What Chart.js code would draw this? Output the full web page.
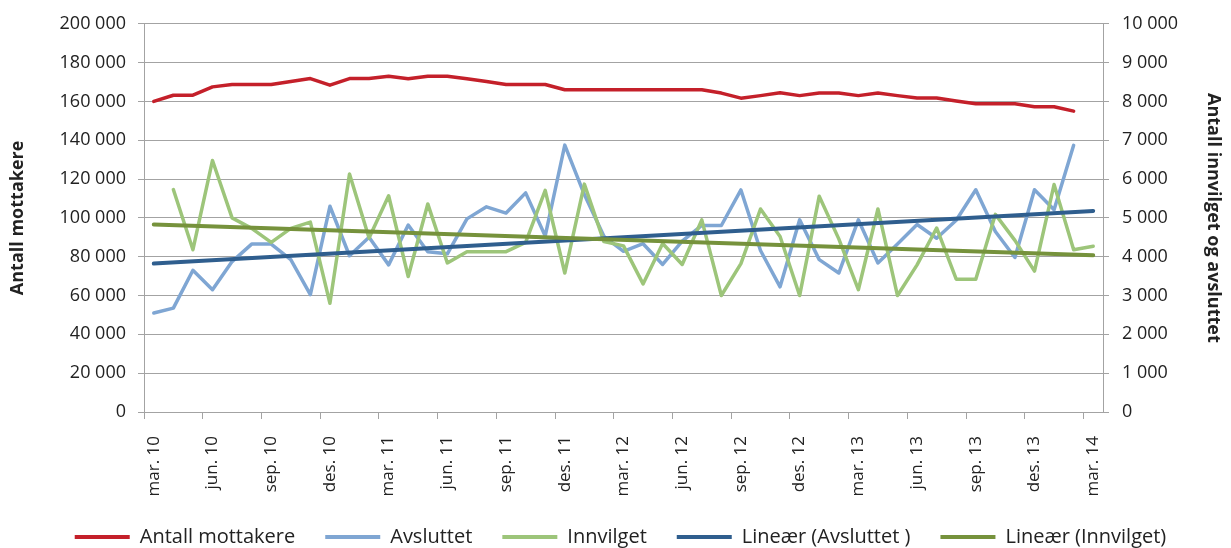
<!DOCTYPE html>
<html><head><meta charset="utf-8">
<script src="https://cdn.jsdelivr.net/npm/chart.js@4/dist/chart.umd.min.js"></script>
<style>html,body{margin:0;padding:0;background:#fff}#wrap{width:1231px;height:548px}</style>
</head><body><div id="wrap"><canvas id="c" width="1231" height="548"></canvas></div>
<script>
const categories = [
  'mar. 10','apr. 10','mai 10','jun. 10','jul. 10','aug. 10','sep. 10','okt. 10','nov. 10','des. 10',
  'jan. 11','feb. 11','mar. 11','apr. 11','mai 11','jun. 11','jul. 11','aug. 11','sep. 11','okt. 11','nov. 11','des. 11',
  'jan. 12','feb. 12','mar. 12','apr. 12','mai 12','jun. 12','jul. 12','aug. 12','sep. 12','okt. 12','nov. 12','des. 12',
  'jan. 13','feb. 13','mar. 13','apr. 13','mai 13','jun. 13','jul. 13','aug. 13','sep. 13','okt. 13','nov. 13','des. 13',
  'jan. 14','feb. 14','mar. 14'
];
const antallMottakere = [
  160000,163200,163200,167500,168700,168700,168700,170300,171800,168400,
  171800,171800,173000,171700,173000,173000,171700,170300,168700,168700,168700,166000,
  166000,166000,166000,166000,166000,166000,166000,164300,161700,163000,164500,163000,
  164400,164400,163000,164400,163000,161800,161800,160200,158800,158800,158800,157300,
  157300,155000
];
const avsluttet = [
  51000,53500,73000,63000,77500,86500,86500,78500,60500,106000,
  80500,90000,75800,96300,82600,81500,99500,105700,102500,112900,90700,137500,
  112000,90500,82800,86700,76000,88000,96100,96100,114400,83200,64500,99000,
  78500,71600,99000,76800,86500,96600,89500,98800,114500,93000,79600,114500,
  104200,137400
];
const innvilget = [
  null,5730,4180,6480,5000,4730,4370,4730,4890,2800,
  6130,4480,5570,3490,5360,3840,4130,4130,4130,4370,5710,3580,
  5870,4390,4280,3300,4340,3800,4950,3000,3820,5230,4520,3000,
  5560,4460,3150,5230,3000,3790,4740,3420,3420,5090,4420,3630,
  5860,4180,4270
];
const trendAvsluttet = [76500, 103600];
const trendInnvilget = [4830, 4040];
const seriesNames = ['Antall mottakere','Avsluttet','Innvilget','Lineær (Avsluttet )','Lineær (Innvilget)'];
const leftTitle = 'Antall mottakere';
const rightTitle = 'Antall innvilget og avsluttet';

const RED = '#C4202A', LBLUE = '#7FA6D3', LGREEN = '#9DC57A', DBLUE = '#2F5E8E', DGREEN = '#76923C';
const GRID = '#A3A3A3';
const fmt = v => String(v).replace(/\B(?=(\d{3})+(?!\d))/g, ' ');
const last = categories.length - 1;

Chart.defaults.font.family = "'Open Sans', sans-serif";
Chart.defaults.color = '#222';

new Chart(document.getElementById('c'), {
  type: 'line',
  data: {
    labels: categories,
    datasets: [
      {label: seriesNames[0], data: antallMottakere, yAxisID: 'y', borderColor: RED, backgroundColor: RED, borderWidth: 3.5, order: 4},
      {label: seriesNames[1], data: avsluttet, yAxisID: 'y', borderColor: LBLUE, backgroundColor: LBLUE, borderWidth: 3.5, order: 3},
      {label: seriesNames[2], data: innvilget, yAxisID: 'y2', borderColor: LGREEN, backgroundColor: LGREEN, borderWidth: 3.5, order: 2},
      {label: seriesNames[3], data: [{x: categories[0], y: trendAvsluttet[0]}, {x: categories[last], y: trendAvsluttet[1]}], yAxisID: 'y', borderColor: DBLUE, backgroundColor: DBLUE, borderWidth: 4, order: 1},
      {label: seriesNames[4], data: [{x: categories[0], y: trendInnvilget[0]}, {x: categories[last], y: trendInnvilget[1]}], yAxisID: 'y2', borderColor: DGREEN, backgroundColor: DGREEN, borderWidth: 4, order: 0}
    ]
  },
  options: {
    responsive: false,
    animation: false,
    elements: {point: {radius: 0}, line: {tension: 0, borderCapStyle: 'round', borderJoinStyle: 'round'}},
    layout: {padding: {top: 21, bottom: -9, left: 0, right: -10}},
    plugins: {
      tooltip: {enabled: false},
      legend: {
        position: 'bottom',
        labels: {
          boxWidth: 55, boxHeight: 4, padding: 30, color: '#222', font: {size: 20},
          sort: (a, b) => a.datasetIndex - b.datasetIndex,
          generateLabels(chart) {
            const items = Chart.defaults.plugins.legend.labels.generateLabels(chart);
            items.forEach(it => { it.fillStyle = it.strokeStyle; it.lineWidth = 0; });
            return items;
          }
        }
      }
    },
    scales: {
      x: {
        type: 'category', offset: true,
        grid: {offset: true, drawOnChartArea: false, drawTicks: true, tickLength: 7,
               tickColor: c => (c.index % 3 === 0 ? GRID : 'rgba(0,0,0,0)')},
        border: {color: GRID},
        ticks: {autoSkip: false, maxRotation: 90, minRotation: 90, padding: 17, font: {size: 17},
                callback(v, i) { return i % 3 === 0 ? this.getLabelForValue(v) : ''; }},
        afterFit(s) { s.height = 85; }
      },
      y: {
        position: 'left', min: 0, max: 200000,
        ticks: {stepSize: 20000, callback: fmt, padding: 12, font: {size: 18}},
        grid: {color: GRID, tickLength: 6},
        border: {color: GRID},
        title: {display: true, text: leftTitle, font: {size: 18, weight: 'bold'}, padding: {top: 7, bottom: 0}},
        afterFit(s) { s.width = 144; }
      },
      y2: {
        position: 'right', min: 0, max: 10000,
        ticks: {stepSize: 1000, callback: fmt, padding: 13, font: {size: 18}},
        grid: {drawOnChartArea: false, color: GRID, tickLength: 6},
        border: {color: GRID},
        title: {display: true, text: rightTitle, font: {size: 18, weight: 'bold'}, padding: {top: 17, bottom: 0}},
        afterFit(s) { s.width = 138; }
      }
    }
  }
});
</script>
</body></html>
